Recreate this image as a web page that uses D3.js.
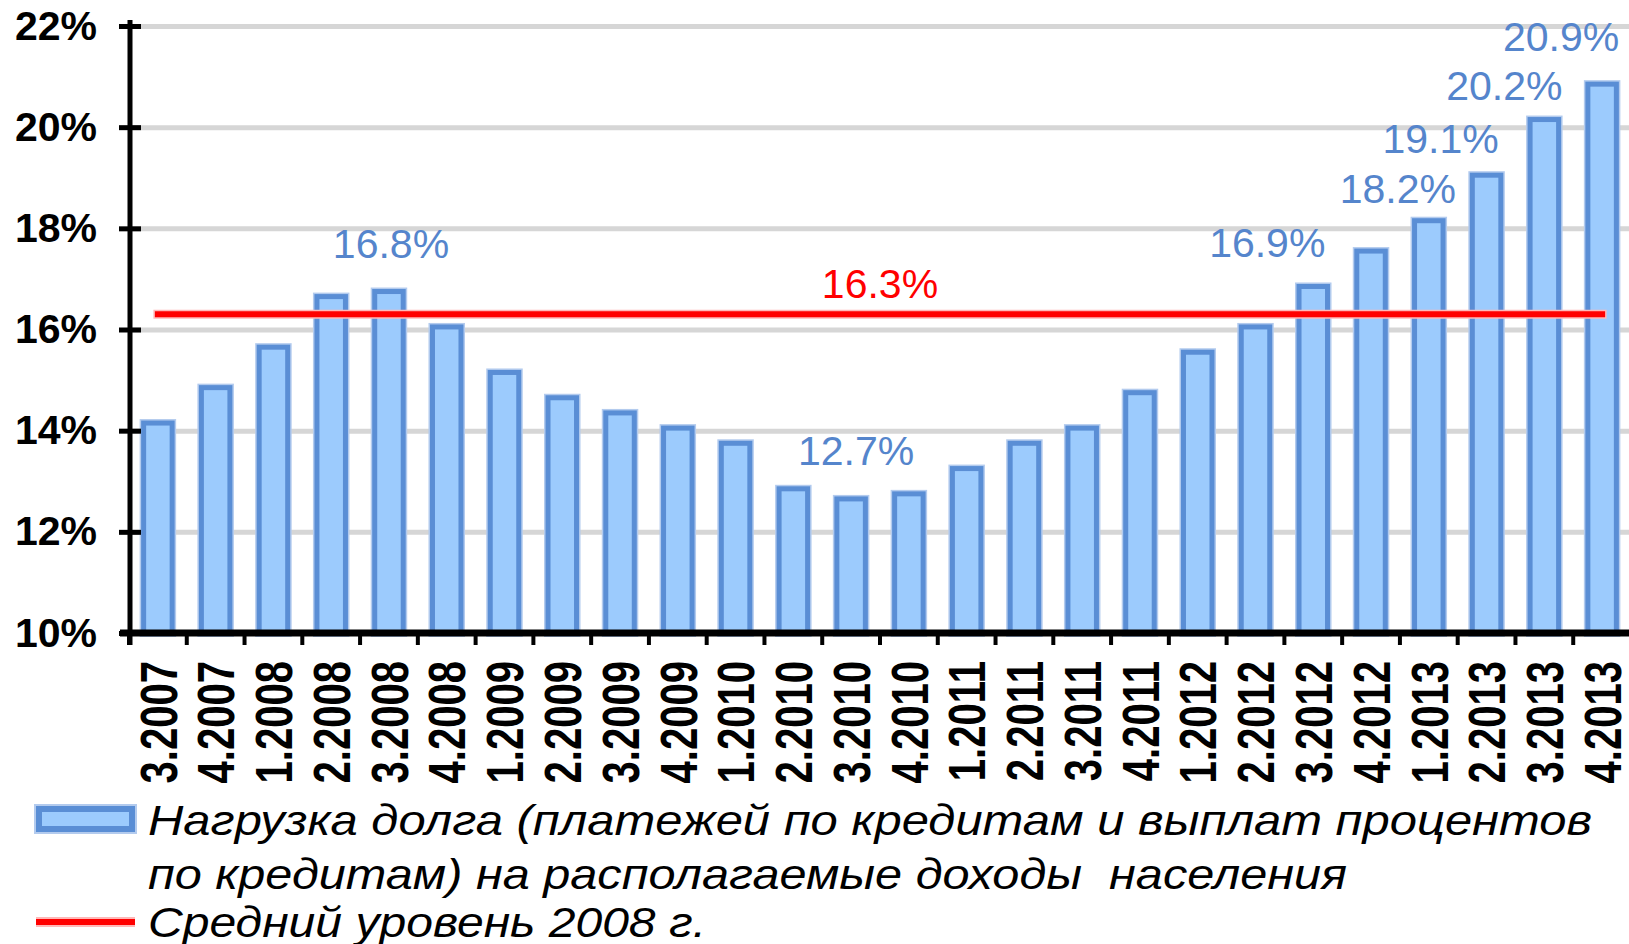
<!DOCTYPE html>
<html>
<head>
<meta charset="utf-8">
<script src="https://cdn.jsdelivr.net/npm/d3@7"></script>
<style>
  body { margin: 0; background: #fff; }
  svg { display: block; font-family: "Liberation Sans", Arial, sans-serif; }
</style>
</head>
<body>
<div id="chart"></div>
<script>
// quarters (quarter.year)
const quarters = ["3.2007", "4.2007", "1.2008", "2.2008", "3.2008", "4.2008",
    "1.2009", "2.2009", "3.2009", "4.2009", "1.2010", "2.2010", "3.2010", "4.2010",
    "1.2011", "2.2011", "3.2011", "4.2011", "1.2012", "2.2012", "3.2012", "4.2012",
    "1.2013", "2.2013", "3.2013", "4.2013"];

// debt service to disposable income, %
const debtLoad = [14.2, 14.9, 15.7, 16.7, 16.8, 16.1, 15.2, 14.7, 14.4, 14.1,
    13.8, 12.9, 12.7, 12.8, 13.3, 13.8, 14.1, 14.8, 15.6, 16.1, 16.9, 17.6,
    18.2, 19.1, 20.2, 20.9];

const avg2008 = 16.3;

const yTicks = [10, 12, 14, 16, 18, 20, 22];

// which bars carry a value label
const labelledBars = ["3.2008", "3.2010", "3.2012", "1.2013", "2.2013", "3.2013", "4.2013"];

const seriesNames = [
    ["Нагрузка долга (платежей по кредитам и выплат процентов",
     "по кредитам) на располагаемые доходы  населения"],
    ["Средний уровень 2008 г."]
];

// label nudges (dx, gap above bar) - hand placed in the original
const labelNudge = {
    "3.2008": [2, 31], "3.2010": [5, 31], "3.2012": [-46, 27], "1.2013": [-31, 15],
    "2.2013": [-46, 20], "3.2013": [-40, 17], "4.2013": [-41, 31]
};

const W = 1629, H = 944;
const plotLeft = 130, plotRight = 1631, plotTop = 26, plotBottom = 633;
const barBlue = "#5a8ed5", barHalo = "#b3cbee", barFill = "#9ccbfd", labelBlue = "#5585cc";

const svg = d3.select("#chart").append("svg")
    .attr("width", W)
    .attr("height", H);

const x = d3.scaleBand()
    .domain(quarters)
    .range([plotLeft - 1, plotRight])
    .paddingInner(0.42)
    .paddingOuter(0.21);

const y = d3.scaleLinear()
    .domain([10, 22])
    .range([plotBottom, plotTop]);

const cx = q => x(q) + x.bandwidth() / 2;

// gridlines
svg.append("g")
    .attr("transform", `translate(${plotLeft},0)`)
    .call(d3.axisLeft(y).tickValues(yTicks.slice(1)).tickSize(-(W - plotLeft)).tickFormat(""))
    .call(g => g.select(".domain").remove())
    .call(g => g.selectAll("line").attr("stroke", "#d6d6d6").attr("stroke-width", 5));

// bars: soft halo underneath, then the bordered bar
const bars = svg.append("g");

["halo", "bar"].forEach(layer => {
    bars.append("g")
        .selectAll("rect")
        .data(quarters)
        .join("rect")
        .attr("x", q => x(q) + 2.5)
        .attr("width", x.bandwidth() - 5)
        .attr("y", (q, i) => y(debtLoad[i]) + 2.5)
        .attr("height", (q, i) => y(10) - y(debtLoad[i]) - 2.5)
        .attr("fill", layer === "bar" ? barFill : "none")
        .attr("stroke", layer === "bar" ? barBlue : barHalo)
        .attr("stroke-width", layer === "bar" ? 5 : 8);
});

// 2008 average line
const avgLine = d3.line()
    .x(q => cx(q))
    .y(() => y(avg2008));

svg.append("path")
    .datum(quarters)
    .attr("d", avgLine)
    .attr("fill", "none")
    .attr("stroke", "#ffb8b8")
    .attr("stroke-width", 9)
    .attr("stroke-linecap", "square");

svg.append("path")
    .datum(quarters)
    .attr("d", avgLine)
    .attr("fill", "none")
    .attr("stroke", "#ff0000")
    .attr("stroke-width", 6)
    .attr("stroke-linecap", "square");

svg.append("text")
    .attr("x", (cx(quarters[0]) + cx(quarters[quarters.length - 1])) / 2)
    .attr("y", y(avg2008) - 16)
    .attr("text-anchor", "middle")
    .attr("font-size", 41)
    .attr("fill", "#ff0000")
    .text(d3.format(".1f")(avg2008) + "%");

// bar value labels
svg.append("g")
    .selectAll("text")
    .data(labelledBars)
    .join("text")
    .attr("x", q => cx(q) + labelNudge[q][0])
    .attr("y", q => y(debtLoad[quarters.indexOf(q)]) - labelNudge[q][1])
    .attr("text-anchor", "middle")
    .attr("font-size", 41)
    .attr("fill", labelBlue)
    .text(q => d3.format(".1f")(debtLoad[quarters.indexOf(q)]) + "%");

// y axis
svg.append("g")
    .attr("transform", `translate(${plotLeft},0)`)
    .call(d3.axisLeft(y).tickValues(yTicks).tickFormat(d => d + "%").tickSize(11).tickSizeOuter(0))
    .call(g => g.select(".domain").remove())
    .call(g => g.selectAll(".tick line").attr("x1", 11).attr("stroke", "#000").attr("stroke-width", 5))
    .call(g => g.selectAll(".tick text")
        .attr("x", -33)
        .attr("font-size", 41)
        .attr("font-weight", "bold")
        .attr("font-family", "Liberation Sans, Arial, sans-serif")
        .attr("fill", "#000"));

svg.append("line")
    .attr("x1", plotLeft).attr("x2", plotLeft)
    .attr("y1", plotTop - 6).attr("y2", plotBottom + 12)
    .attr("stroke", "#000")
    .attr("stroke-width", 5);

// x axis: labels at band centres, ticks at band edges
svg.append("g")
    .attr("transform", `translate(0,${plotBottom})`)
    .call(d3.axisBottom(x).tickSize(0))
    .call(g => g.select(".domain").remove())
    .call(g => g.selectAll(".tick text")
        .attr("x", 0)
        .attr("y", 0)
        .attr("dy", "0.36em")
        .attr("text-anchor", "end")
        .attr("transform", "translate(0,28) rotate(-90) scale(0.77,1)")
        .attr("font-size", 52)
        .attr("font-weight", "bold")
        .attr("font-family", "Liberation Sans, Arial, sans-serif")
        .attr("fill", "#000"));

const edgeOffset = x.step() * x.paddingInner() / 2;
svg.append("g")
    .selectAll("line")
    .data(quarters)
    .join("line")
    .attr("x1", q => x(q) - edgeOffset)
    .attr("x2", q => x(q) - edgeOffset)
    .attr("y1", plotBottom)
    .attr("y2", plotBottom + 12)
    .attr("stroke", "#000")
    .attr("stroke-width", 4);

svg.append("line")
    .attr("x1", plotLeft - 10).attr("x2", W)
    .attr("y1", plotBottom).attr("y2", plotBottom)
    .attr("stroke", "#000")
    .attr("stroke-width", 7);

// legend
const legend = svg.append("g");

legend.append("rect")
    .attr("x", 39).attr("y", 809)
    .attr("width", 93).attr("height", 20)
    .attr("fill", "none")
    .attr("stroke", barHalo)
    .attr("stroke-width", 10);

legend.append("rect")
    .attr("x", 39).attr("y", 809)
    .attr("width", 93).attr("height", 20)
    .attr("fill", barFill)
    .attr("stroke", barBlue)
    .attr("stroke-width", 6);

legend.append("line")
    .attr("x1", 36).attr("x2", 135)
    .attr("y1", 922).attr("y2", 922)
    .attr("stroke", "#ffb8b8")
    .attr("stroke-width", 10);

legend.append("line")
    .attr("x1", 36).attr("x2", 135)
    .attr("y1", 922).attr("y2", 922)
    .attr("stroke", "#ff0000")
    .attr("stroke-width", 6);

const legendLines = [
    { text: seriesNames[0][0], y: 835, len: 1444 },
    { text: seriesNames[0][1], y: 889, len: 1199 },
    { text: seriesNames[1][0], y: 937, len: 558 }
];

legend.selectAll("text")
    .data(legendLines)
    .join("text")
    .attr("x", 148)
    .attr("y", d => d.y)
    .attr("font-size", 42)
    .attr("font-style", "italic")
    .attr("fill", "#000")
    .attr("textLength", d => d.len)
    .attr("lengthAdjust", "spacingAndGlyphs")
    .style("white-space", "pre")
    .text(d => d.text);
</script>
</body>
</html>
